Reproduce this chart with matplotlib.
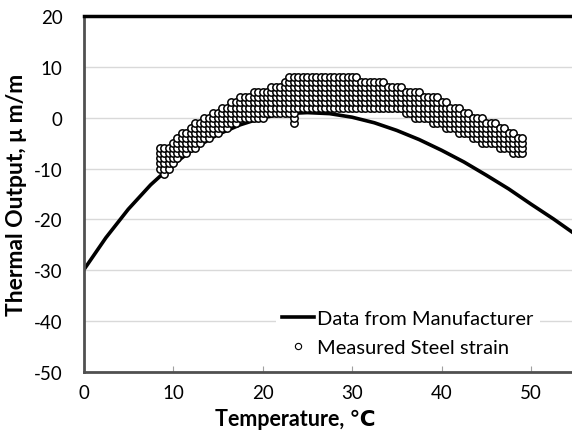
import numpy as np
import matplotlib
matplotlib.use("Agg")
import matplotlib.pyplot as plt
from matplotlib.lines import Line2D

plt.rcParams['font.family'] = ['Lato', 'DejaVu Sans']
plt.rcParams['axes.unicode_minus'] = False

# manufacturer thermal output curve
maker_temp = [0, 2.5, 5, 7.5, 10, 12.5, 15, 17.5, 20, 22.5, 25, 27.5,
              30, 32.5, 35, 37.5, 40, 42.5, 45, 47.5, 50, 52.5, 55]
maker_out = [-30.0, -23.6, -18.0, -13.2, -9.2, -5.9, -3.3, -1.4, 0.0, 0.8, 1.0, 0.8,
             0.1, -1.0, -2.5, -4.3, -6.4, -8.7, -11.3, -14.0, -17.0, -19.9, -23.0]

# measured steel strain: for each temperature the highest / lowest reading (integer ue)
meas_temp = [8.5, 9.0, 9.5, 10.0, 10.5, 11.0, 11.5, 12.0, 12.5, 13.0, 13.5, 14.0,
             14.5, 15.0, 15.5, 16.0, 16.5, 17.0, 17.5, 18.0, 18.5, 19.0, 19.5, 20.0,
             20.5, 21.0, 21.5, 22.0, 22.5, 23.0, 23.5, 24.0, 24.5, 25.0, 25.5, 26.0,
             26.5, 27.0, 27.5, 28.0, 28.5, 29.0, 29.5, 30.0, 30.5, 31.0, 31.5, 32.0,
             32.5, 33.0, 33.5, 34.0, 34.5, 35.0, 35.5, 36.0, 36.5, 37.0, 37.5, 38.0,
             38.5, 39.0, 39.5, 40.0, 40.5, 41.0, 41.5, 42.0, 42.5, 43.0, 43.5, 44.0,
             44.5, 45.0, 45.5, 46.0, 46.5, 47.0, 47.5, 48.0, 48.5, 49.0]
meas_hi = [-6, -6, -6, -5, -4, -3, -3, -2, -1, -1, 0, 0,
           1, 1, 2, 2, 3, 3, 4, 4, 4, 5, 5, 5,
           5, 6, 6, 6, 7, 8, 8, 8, 8, 8, 8, 8,
           8, 8, 8, 8, 8, 8, 8, 8, 8, 7, 7, 7,
           7, 7, 7, 6, 6, 6, 6, 5, 5, 5, 5, 4,
           4, 4, 4, 3, 3, 2, 2, 2, 1, 1, 0, 0,
           0, -1, -1, -1, -2, -2, -3, -3, -4, -4]
meas_lo = [-10, -11, -10, -9, -8, -7, -7, -6, -6, -5, -4, -4,
           -3, -3, -2, -2, -1, -1, 0, 0, 0, 0, 0, 0,
           1, 1, 1, 1, 1, 1, -1, 2, 2, 2, 2, 2,
           2, 2, 2, 2, 2, 2, 2, 2, 2, 2, 2, 2,
           2, 2, 2, 2, 2, 2, 2, 1, 1, 0, 0, 0,
           0, -1, -1, -1, -2, -2, -2, -3, -3, -3, -4, -4,
           -5, -5, -5, -5, -6, -6, -6, -7, -7, -7]

# every integer reading between lo and hi at each temperature
pts_t, pts_v = [], []
for t, hi, lo in zip(meas_temp, meas_hi, meas_lo):
    for v in range(lo, hi + 1):
        pts_t.append(t)
        pts_v.append(v)

fig = plt.figure(figsize=(5.72, 4.31), dpi=100)
ax = fig.add_axes([0.146, 0.1346, 0.8606, 0.826])

ax.plot(maker_temp, maker_out, color='black', lw=2.6, zorder=2)
ax.scatter(pts_t, pts_v, s=28, facecolor='white', edgecolor='black',
           linewidths=1.1, zorder=3)

ax.set_xlim(0, 55)
ax.set_ylim(-50, 20)
ax.set_xticks([0, 10, 20, 30, 40, 50])
ax.set_yticks(range(-50, 21, 10))
ax.yaxis.grid(True, color='#d9d9d9', lw=1)
ax.set_axisbelow(True)

ax.spines['right'].set_visible(False)
ax.spines['top'].set_color('black')
ax.spines['top'].set_linewidth(2.5)
for s in ['left', 'bottom']:
    ax.spines[s].set_color('#505050')
    ax.spines[s].set_linewidth(2)

ax.tick_params(axis='x', direction='in', length=4, color='#a0a0a0', labelsize=13.5, pad=9)
ax.tick_params(axis='y', length=0, labelsize=13.5, pad=15)

ax.set_xlabel('Temperature, ℃', fontsize=15.5, fontweight='bold')
ax.set_ylabel('Thermal Output, μ m/m', fontsize=16.5, fontweight='bold')
ax.xaxis.set_label_coords(0.43, -0.1)
ax.yaxis.set_label_coords(-0.115, 0.5)

handles = [Line2D([], [], color='black', lw=2.6),
           Line2D([], [], ls='', marker='o', ms=4.5, mfc='white', mec='black', mew=0.8)]
leg = ax.legend(handles, ['Data from Manufacturer', 'Measured Steel strain'],
                loc='lower left', bbox_to_anchor=(0.371, 0.0), frameon=True,
                fontsize=14.5, handlelength=1.6, handletextpad=0.15,
                borderpad=0.3, labelspacing=0.6)
leg.get_frame().set_edgecolor('none')
leg.get_frame().set_facecolor('white')
leg.get_frame().set_alpha(1)
leg.get_frame().set_boxstyle('square', pad=0)

fig.savefig('out.png', dpi=100)
